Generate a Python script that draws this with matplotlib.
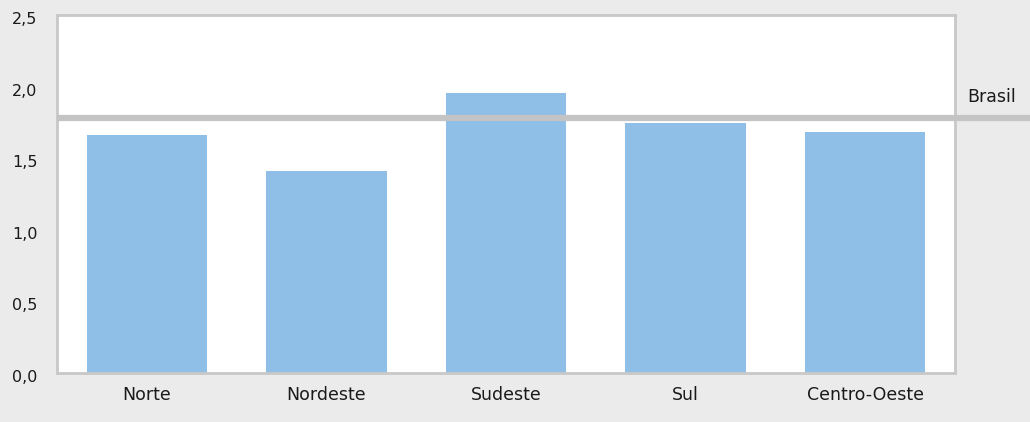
import matplotlib
matplotlib.use("Agg")
import matplotlib.pyplot as plt
import matplotlib.transforms as mtransforms

# dados
regioes = ["Norte", "Nordeste", "Sudeste", "Sul", "Centro-Oeste"]
valores = [1.66, 1.41, 1.955, 1.745, 1.685]
brasil = 1.78
yticks = [0.0, 0.5, 1.0, 1.5, 2.0, 2.5]

fundo = "#ebebeb"
borda = "#c8c8c8"
texto = "#1a1a1a"

fig = plt.figure(figsize=(10.30, 4.22), dpi=100, facecolor=fundo)
ax = fig.add_axes([57 / 1030, 49 / 422, 898 / 1030, 358 / 422])
ax.set_facecolor("white")

x = range(len(regioes))
ax.bar(x, valores, width=0.67, color="#8fbfe7", zorder=2)

# linha Brasil, sai do eixo até a borda da figura
ax.plot([-0.5, 4.95], [brasil, brasil], color="#c4c4c4", lw=4.5,
        clip_on=False, zorder=3, solid_capstyle="butt")
ax.text(4.57, brasil + 0.085, "Brasil", fontsize=12.5, ha="left", va="bottom",
        color=texto, clip_on=False)

ax.set_xlim(-0.5, 4.5)
ax.set_ylim(0, 2.5)
ax.set_xticks(list(x))
ax.set_xticklabels(regioes, fontsize=12.5, color=texto)
ax.set_yticks(yticks)
ax.set_yticklabels([f"{v:.1f}".replace(".", ",") for v in yticks],
                   fontsize=11.5, color=texto)
ax.tick_params(axis="both", length=0)
ax.tick_params(axis="x", pad=9)
ax.tick_params(axis="y", pad=14)
desloc = mtransforms.ScaledTranslation(0, -3 / 100, fig.dpi_scale_trans)
for lbl in ax.get_yticklabels():
    lbl.set_transform(lbl.get_transform() + desloc)

for s in ax.spines.values():
    s.set_color(borda)
    s.set_linewidth(2)

fig.savefig("out.png", dpi=100, facecolor=fundo)
